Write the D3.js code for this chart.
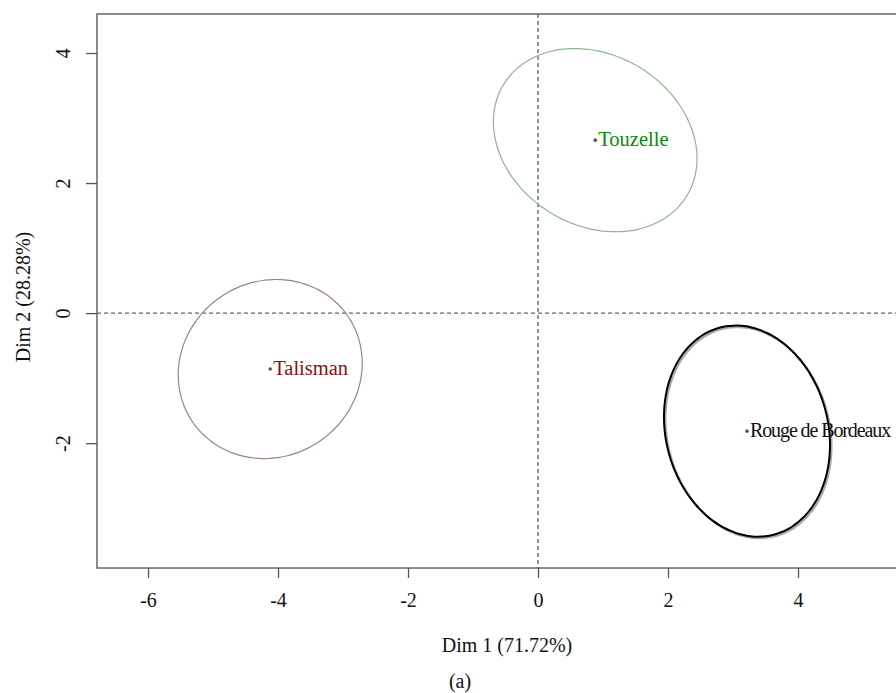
<!DOCTYPE html>
<html><head><meta charset="utf-8">
<script src="https://cdn.jsdelivr.net/npm/d3@7"></script>
<style>html,body{margin:0;padding:0;background:#fff;overflow:hidden}
svg text{font-family:'Liberation Serif','Times New Roman',serif;}</style>
</head><body>
<svg id="chart" width="896" height="693"></svg>
<script>
// ---- data ----
const varieties = ["Touzelle", "Talisman", "Rouge de Bordeaux"];
const dim1 = [0.88, -4.12, 3.215];
const dim2 = [2.66, -0.86, -1.815];
// confidence ellipses: semi-axes (data units) and rotation (degrees)
const ellipseMajor = [1.649, 1.445, 1.645];
const ellipseMinor = [1.311, 1.346, 1.249];
const ellipseAngle = [-31, 33.6, -75.6];
const xTicks = [-6, -4, -2, 0, 2, 4];
const yTicks = [-2, 0, 2, 4];
const xTitle = "Dim 1 (71.72%)";
const yTitle = "Dim 2 (28.28%)";
const caption = "(a)";
const labelColors = ["#0a8a0a", "#8b1010", "#111111"];
const ellipseColors = ["#8fb58f", "#9e8285", "#000000"];

// ---- layout ----
const svg = d3.select("#chart");
const font = "'Liberation Serif','Times New Roman',serif";
const x = d3.scaleLinear().domain([-6.785, 5.6]).range([97, 902]);
const y = d3.scaleLinear().domain([-3.92, 4.6]).range([568, 14]);
const fmt = v => String(v); // plain hyphen-minus as in the reference

// frame
svg.append("rect").attr("x", 97).attr("y", 14)
  .attr("width", 902 - 97).attr("height", 568 - 14)
  .attr("fill", "none").attr("stroke", "#666").attr("stroke-width", 1.5);

// axes
const xAxis = svg.append("g").attr("transform", `translate(0,568)`)
  .call(d3.axisBottom(x).tickValues(xTicks).tickSize(10).tickFormat(fmt));
const yAxis = svg.append("g").attr("transform", `translate(97,0)`)
  .call(d3.axisLeft(y).tickValues(yTicks).tickSize(11).tickFormat(fmt));
[xAxis, yAxis].forEach(a => {
  a.attr("font-family", null).attr("font-size", null);
  a.select(".domain").remove();
  a.selectAll(".tick line").attr("stroke", "#555").attr("stroke-width", 1.3);
  a.selectAll(".tick text")
    .style("font-family", font).style("font-size", "20px").attr("fill", "#111");
});
xAxis.selectAll(".tick text").attr("y", 39).attr("dy", 0);
yAxis.selectAll(".tick text")
  .attr("x", null).attr("dy", 0).attr("y", 0).attr("text-anchor", "middle")
  .attr("transform", "translate(-27,0) rotate(-90)");

// reference dashed lines
svg.append("line").attr("x1", x(0)).attr("x2", x(0)).attr("y1", 14).attr("y2", 568)
  .attr("stroke", "#666").attr("stroke-width", 1.4).attr("stroke-dasharray", "4,3");
svg.append("line").attr("x1", 97).attr("x2", 902).attr("y1", y(0)).attr("y2", y(0))
  .attr("stroke", "#666").attr("stroke-width", 1.4).attr("stroke-dasharray", "4,3");

// ellipses
function ellipsePts(i) {
  const a = ellipseMajor[i], b = ellipseMinor[i], th = ellipseAngle[i] * Math.PI / 180;
  return d3.range(0, 360, 3).map(deg => {
    const t = deg * Math.PI / 180;
    const ex = a * Math.cos(t), ey = b * Math.sin(t);
    return [dim1[i] + ex * Math.cos(th) - ey * Math.sin(th),
            dim2[i] + ex * Math.sin(th) + ey * Math.cos(th)];
  });
}
const line = d3.line().x(d => x(d[0])).y(d => y(d[1])).curve(d3.curveCardinalClosed);
varieties.forEach((v, i) => {
  const pts = ellipsePts(i);
  if (i === 2) {
    svg.append("path").attr("d", line(pts)).attr("fill", "none")
      .attr("stroke", "#aaa").attr("stroke-width", 2.2).attr("transform", "translate(1.5,1.5)");
  }
  svg.append("path").attr("d", line(pts)).attr("fill", "none")
    .attr("stroke", ellipseColors[i]).attr("stroke-width", i === 2 ? 2 : 1.2);
});

// points and labels
varieties.forEach((v, i) => {
  svg.append("circle").attr("cx", x(dim1[i])).attr("cy", y(dim2[i])).attr("r", 1.8).attr("fill", "#555");
  svg.append("text").attr("x", x(dim1[i]) + 3).attr("y", y(dim2[i]) + 6)
    .style("font-family", font).style("font-size", i === 2 ? "20px" : "20.5px").attr("fill", labelColors[i])
    .attr("letter-spacing", i === 2 ? "-1.1px" : "0px")
    .text(v);
});

// titles
svg.append("text").attr("x", 507).attr("y", 652).attr("text-anchor", "middle")
  .style("font-family", font).style("font-size", "20px").attr("fill", "#111").text(xTitle);
svg.append("text").attr("x", 460).attr("y", 688).attr("text-anchor", "middle")
  .style("font-family", font).style("font-size", "20px").attr("fill", "#111").text(caption);
svg.append("text").attr("transform", "translate(30,297) rotate(-90)").attr("text-anchor", "middle")
  .style("font-family", font).style("font-size", "20px").attr("fill", "#111").text(yTitle);
</script>
</body></html>
